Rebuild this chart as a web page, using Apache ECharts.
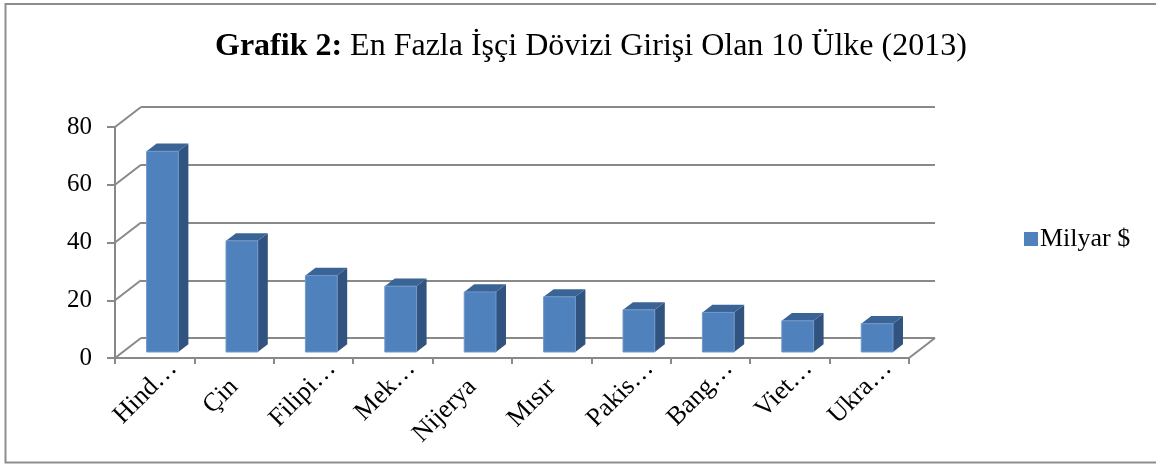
<!DOCTYPE html>
<html>
<head>
<meta charset="utf-8">
<script src="https://cdn.jsdelivr.net/npm/echarts@6/dist/echarts.min.js"></script>
<style>
html, body { margin: 0; padding: 0; background: #fff; }
#main { width: 1156px; height: 464px; }
</style>
</head>
<body>
<div id="main"></div>
<script>
// veriler
var categories = ['Hind…', 'Çin', 'Filipi…', 'Mek…', 'Nijerya', 'Mısır', 'Pakis…', 'Bang…', 'Viet…', 'Ukra…'];
var values = [69.5, 38.5, 26.5, 22.8, 20.8, 19.1, 14.6, 13.7, 10.8, 9.8];
var yTicks = [0, 20, 40, 60, 80];
var seriesName = 'Milyar $';

// 3B görünüm: arka duvarın ön düzleme göre kayması (px)
var DX = 26, DY = 20;
var GRID_COLOR = '#898989';
var FONT = 'Liberation Serif';

var myChart = echarts.init(document.getElementById('main'));

// yan duvar çizgileri (eksen tiklerinden arka duvara)
function renderWall(params, api) {
    var cs = params.coordSys;
    var v = api.value(1);
    var y = api.coord([0, v])[1];
    var children = [{
        type: 'line',
        shape: { x1: cs.x, y1: y, x2: cs.x + DX, y2: y - DY },
        style: { stroke: GRID_COLOR, lineWidth: 2 }
    }];
    if (v === 0) {
        // zeminin sağ kenarı
        children.push({
            type: 'line',
            shape: { x1: cs.x + cs.width, y1: y, x2: cs.x + cs.width + DX, y2: y - DY },
            style: { stroke: GRID_COLOR, lineWidth: 2 }
        });
    }
    return { type: 'group', children: children };
}

// 3B sütun: ön yüz, yan yüz, üst yüz
function renderBar(params, api) {
    var i = api.value(0), v = api.value(1);
    var top = api.coord([i, v]);
    var base = api.coord([i, 0]);
    var band = api.size([1, 0])[0];
    var w = band * 0.4;
    var off = 0.3;           // ön yüzün derinliği
    var dx = DX * 0.385, dy = DY * 0.385;  // sütun derinliği
    var x0 = top[0] - w / 2 + DX * off, x1 = x0 + w;
    var yt = top[1] - DY * off, yb = base[1] - DY * off;
    return {
        type: 'group',
        children: [{
            type: 'polygon',
            shape: { points: [[x1, yt], [x1 + dx, yt - dy], [x1 + dx, yb - dy], [x1, yb]] },
            style: { fill: '#31537f' }
        }, {
            type: 'polygon',
            shape: { points: [[x0, yt], [x0 + dx, yt - dy], [x1 + dx, yt - dy], [x1, yt]] },
            style: { fill: '#3b6496' }
        }, {
            type: 'rect',
            shape: { x: x0, y: yt, width: w, height: yb - yt },
            style: { fill: '#4f81bd', stroke: '#7097c9', lineWidth: 1 }
        }]
    };
}

// kısaltılmış etiketlerde "…" hizalamaya katılmıyor (Excel gibi)
function catLabel(v) {
    if (v.charAt(v.length - 1) === '…') {
        return '{t|' + v.slice(0, -1) + '}{e|…}';
    }
    return '{t|' + v + '}';
}

var option = {
    animation: false,
    backgroundColor: '#fff',
    title: {
        text: '{b|Grafik 2:}{n| En Fazla İşçi Dövizi Girişi Olan 10 Ülke (2013)}',
        left: 215,
        top: 28,
        padding: 0,
        textStyle: {
            rich: {
                b: { fontFamily: FONT, fontSize: 32, fontWeight: 'bold', color: '#000', lineHeight: 37 },
                n: { fontFamily: FONT, fontSize: 32, fontWeight: 'normal', color: '#000', lineHeight: 37 }
            }
        }
    },
    legend: {
        data: [seriesName],
        left: 1019,
        top: 220,
        icon: 'rect',
        itemWidth: 14,
        itemHeight: 14,
        itemStyle: { color: '#4f81bd' },
        textStyle: { fontFamily: FONT, fontSize: 26, color: '#000', lineHeight: 28, padding: [0, 0, 0, -3] }
    },
    graphic: [{
        type: 'rect',
        silent: true,
        shape: { x: 5.5, y: 4, width: 1200, height: 458.5 },
        style: { fill: 'none', stroke: '#8d8d8d', lineWidth: 2 }
    }],
    grid: [
        // ön düzlem (eksenler)
        { left: 115, top: 127, width: 794, height: 231, outerBoundsMode: 'none' },
        // arka duvar (kılavuz çizgileri)
        { left: 115 + DX, top: 127 - DY, width: 794, height: 231, outerBoundsMode: 'none' }
    ],
    xAxis: [{
        gridIndex: 0,
        type: 'category',
        data: categories,
        boundaryGap: true,
        axisLine: { lineStyle: { color: GRID_COLOR, width: 2 } },
        axisTick: { show: true, interval: 0, length: 6, lineStyle: { color: GRID_COLOR, width: 2 } },
        axisLabel: {
            interval: 0,
            rotate: 45,
            margin: 25,
            formatter: catLabel,
            rich: {
                t: { fontFamily: FONT, fontSize: 26, color: '#000' },
                e: { fontFamily: FONT, fontSize: 26, color: '#000', padding: [0, -26, 0, 0] }
            }
        }
    }, {
        gridIndex: 1,
        type: 'category',
        data: categories,
        show: false
    }],
    yAxis: [{
        gridIndex: 0,
        type: 'value',
        min: 0,
        max: 80,
        interval: 20,
        axisLine: { show: true, lineStyle: { color: GRID_COLOR, width: 2 } },
        axisTick: { show: true, length: 8, lineStyle: { color: GRID_COLOR, width: 2 } },
        axisLabel: { margin: 23, fontFamily: FONT, fontSize: 25, color: '#000' },
        splitLine: { show: false }
    }, {
        gridIndex: 1,
        type: 'value',
        min: 0,
        max: 80,
        interval: 20,
        axisLine: { show: false },
        axisTick: { show: false },
        axisLabel: { show: false },
        splitLine: { show: true, lineStyle: { color: GRID_COLOR, width: 2 } }
    }],
    series: [{
        type: 'custom',
        name: 'duvar',
        xAxisIndex: 0,
        yAxisIndex: 0,
        silent: true,
        z: 1,
        renderItem: renderWall,
        data: yTicks.map(function (v) { return [0, v]; })
    }, {
        type: 'custom',
        name: seriesName,
        xAxisIndex: 0,
        yAxisIndex: 0,
        z: 3,
        itemStyle: { color: '#4f81bd' },
        renderItem: renderBar,
        data: values.map(function (v, i) { return [i, v]; })
    }]
};

myChart.setOption(option);
</script>
</body>
</html>
